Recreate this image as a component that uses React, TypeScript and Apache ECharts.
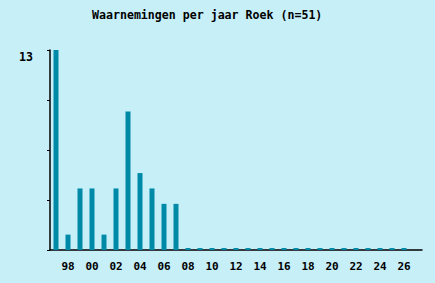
import React, { useEffect, useRef } from "react";
import * as echarts from "echarts";

const years = [
  "97", "98", "99", "00", "01", "02", "03", "04", "05", "06",
  "07", "08", "09", "10", "11", "12", "13", "14", "15", "16",
  "17", "18", "19", "20", "21", "22", "23", "24", "25", "26", "",
];
const counts = [
  13, 1, 4, 4, 1, 4, 9, 5, 4, 3,
  3, 0, 0, 0, 0, 0, 0, 0, 0, 0,
  0, 0, 0, 0, 0, 0, 0, 0, 0, 0, null,
];
const titleText = "Waarnemingen per jaar Roek (n=51)";
const yMax = 13;

const FONT = "'DejaVu Sans Mono', 'Liberation Mono', monospace";

export default function App() {
  const ref = useRef<HTMLDivElement>(null);
  useEffect(() => {
    if (!ref.current) return;
    const chart = echarts.init(ref.current, null, { renderer: "svg" });
    chart.setOption({
      animation: false,
      backgroundColor: "#c6eff8",
      title: {
        text: titleText,
        left: 92,
        top: 9,
        padding: 0,
        textStyle: { fontFamily: FONT, fontSize: 11.6, fontWeight: "bold", color: "#000" },
      },
      grid: { left: 50, top: 50, width: 372, height: 200 },
      xAxis: {
        type: "category",
        data: years,
        axisLine: { lineStyle: { color: "#000", width: 1.5 } },
        axisTick: {
          alignWithLabel: true,
          length: 3,
          interval: (i: number) => i % 2 === 1,
          lineStyle: { color: "#000" },
        },
        axisLabel: {
          interval: (i: number) => i % 2 === 1,
          margin: 11,
          fontFamily: FONT,
          fontSize: 11,
          fontWeight: "bold",
          color: "#000",
        },
      },
      yAxis: {
        type: "value",
        min: 0,
        max: yMax,
        interval: 3.25,
        splitLine: { show: false },
        axisLine: { show: true, lineStyle: { color: "#000", width: 1.5 } },
        axisTick: { show: true, length: 3, lineStyle: { color: "#000" } },
        axisLabel: {
          formatter: (v: number) => (v === yMax ? String(yMax) : ""),
          margin: 17,
          verticalAlign: "top",
          lineHeight: 12,
          padding: [1, 0, 0, 0],
          fontFamily: FONT,
          fontSize: 11.6,
          fontWeight: "bold",
          color: "#000",
        },
      },
      series: [
        {
          type: "bar",
          data: counts,
          barWidth: 5,
          barMinHeight: 2,
          itemStyle: { color: "#008aa8" },
        },
      ],
    });
    return () => chart.dispose();
  }, []);
  return (
    <div
      ref={ref}
      style={{ position: "fixed", left: 0, top: 0, width: 435, height: 283 }}
    />
  );
}
